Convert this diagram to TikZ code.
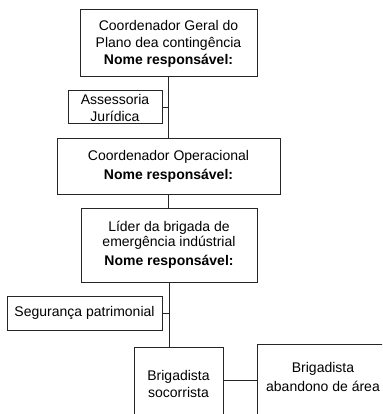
\documentclass[tikz,border=0pt]{standalone}
\usepackage{fontspec}
\setmainfont{Liberation Sans}
\begin{document}
\begin{tikzpicture}[x=1pt,y=-1pt,
  box/.style={draw=black!85, line width=1pt, align=center, inner sep=0pt,
    font=\fontsize{14}{17}\selectfont},
  txt/.style={align=center, inner sep=0pt, font=\fontsize{14}{17}\selectfont},
  conn/.style={draw=black!85, line width=1pt}]
\useasboundingbox (0,0) rectangle (382,414);
\clip (0,0) rectangle (382,414);
\fill[white] (0,0) rectangle (382,414);

\node[box, minimum width=177pt, minimum height=67pt] (cg) at (168.5,43.5)
  {Coordenador Geral do\\Plano dea contingência\\\textbf{Nome responsável:}};
\node[box, minimum width=94pt, minimum height=33pt] (aj) at (115,107.5)
  {Assessoria\\Jurídica};
\node[box, minimum width=223pt, minimum height=55pt] (co) at (168.5,166.5)
  {Coordenador Operacional\\[2.5pt]\textbf{Nome responsável:}};
\node[box, minimum width=176pt, minimum height=74pt] (lb) at (169,245)
  {Líder da brigada de\\[-2pt]emergência indústrial\\[2pt]\textbf{Nome responsável:}};
\node[box, minimum width=155pt, minimum height=34pt] (sp) at (84.5,313)
  {Segurança patrimonial};
\node[box, anchor=north west, minimum width=89pt, minimum height=100pt] (bs) at (134,347) {};
\node[txt] (bst) at (178.5,384) {Brigadista\\socorrista};
\node[box, anchor=north west, minimum width=132pt, minimum height=100pt] (ba) at (257,344) {};
\node[txt] (bat) at (323,377) {Brigadista\\[1.5pt]abandono de área};

\coordinate (j1) at (cg.south |- aj.east);
\coordinate (j2) at (lb.south |- sp.east);
\draw[conn] (cg.south) -- (co.north);
\draw[conn] (aj.east) -- (j1);
\draw[conn] (co.south) -- (co.south |- lb.north);
\draw[conn] (lb.south) -- (lb.south |- bs.north);
\draw[conn] (sp.east) -- (j2);
\draw[conn] (bs.east |- 0,380) -- (ba.west |- 0,380);
\end{tikzpicture}
\end{document}
